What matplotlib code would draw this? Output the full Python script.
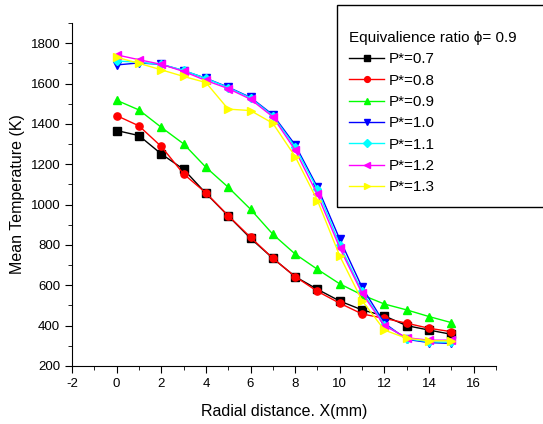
import numpy as np
import matplotlib.pyplot as plt
from matplotlib.ticker import MultipleLocator
from matplotlib.patches import Rectangle

plt.rcParams['font.family'] = ['Liberation Sans', 'DejaVu Sans']
plt.rcParams['axes.unicode_minus'] = False

# Radial distance (mm)
x = np.arange(16)

# Mean temperature (K) for each P*
t07 = [1367, 1342, 1251, 1175, 1056, 944, 833, 734, 643, 580, 522, 478, 448, 400, 378, 357]
t08 = [1441, 1390, 1288, 1152, 1058, 945, 838, 734, 643, 570, 511, 458, 436, 412, 387, 370]
t09 = [1517, 1469, 1383, 1301, 1185, 1086, 977, 853, 755, 679, 607, 552, 507, 478, 445, 415]
t10 = [1692, 1702, 1695, 1664, 1626, 1582, 1531, 1445, 1296, 1086, 828, 590, 412, 332, 316, 312]
t11 = [1712, 1705, 1695, 1665, 1625, 1580, 1528, 1440, 1285, 1075, 800, 570, 405, 335, 320, 318]
t12 = [1742, 1718, 1695, 1660, 1615, 1575, 1522, 1435, 1270, 1050, 785, 560, 400, 340, 328, 328]
t13 = [1730, 1700, 1668, 1635, 1605, 1473, 1466, 1403, 1238, 1020, 745, 524, 378, 337, 325, 325]

labels = ['P*=0.7', 'P*=0.8', 'P*=0.9', 'P*=1.0', 'P*=1.1', 'P*=1.2', 'P*=1.3']
series = [t07, t08, t09, t10, t11, t12, t13]
colors = ['black', 'red', '#00ff00', 'blue', 'cyan', 'magenta', 'yellow']
markers = ['s', 'o', '^', 'v', 'D', '<', '>']

fig = plt.figure(figsize=(5.43, 4.24), dpi=100)
ax = fig.add_axes([0.1326, 0.1368, 0.7808, 0.809])

for y, lab, c, m in zip(series, labels, colors, markers):
    ms = 4.5 if m == 'D' else 5.2
    ax.plot(x, y, color=c, marker=m, markersize=ms, linewidth=1, label=lab)

ax.set_xlim(-2, 17)
ax.set_ylim(200, 1900)
ax.xaxis.set_major_locator(MultipleLocator(2))
ax.xaxis.set_minor_locator(MultipleLocator(1))
ax.yaxis.set_minor_locator(MultipleLocator(100))
ax.set_yticks(np.arange(200, 1801, 200))
ax.tick_params(which='major', direction='out', length=5, labelsize=9.5)
ax.tick_params(which='minor', direction='out', length=3)
ax.spines['top'].set_visible(False)
ax.spines['right'].set_visible(False)
ax.set_xlabel('Radial distance. X(mm)', fontsize=11.5, labelpad=10)
ax.set_ylabel('Mean Temperature (K)', fontsize=11.5)

# legend box running off the right edge
fig.patches.append(Rectangle((337 / 543, 1 - 207 / 424), 0.5, 202 / 424,
                             transform=fig.transFigure, fill=False,
                             edgecolor='black', linewidth=1))
leg = fig.legend(loc='upper left', bbox_to_anchor=(349 / 543, 1 - 31 / 424),
                 frameon=False, fontsize=11, title='Equivalience ratio \u03d5= 0.9',
                 title_fontsize=11, handlelength=2.3, handletextpad=0.3,
                 labelspacing=0.48, borderpad=0, borderaxespad=0, markerscale=0.8)
leg._legend_box.align = 'left'

fig.savefig('out.png', dpi=100)
